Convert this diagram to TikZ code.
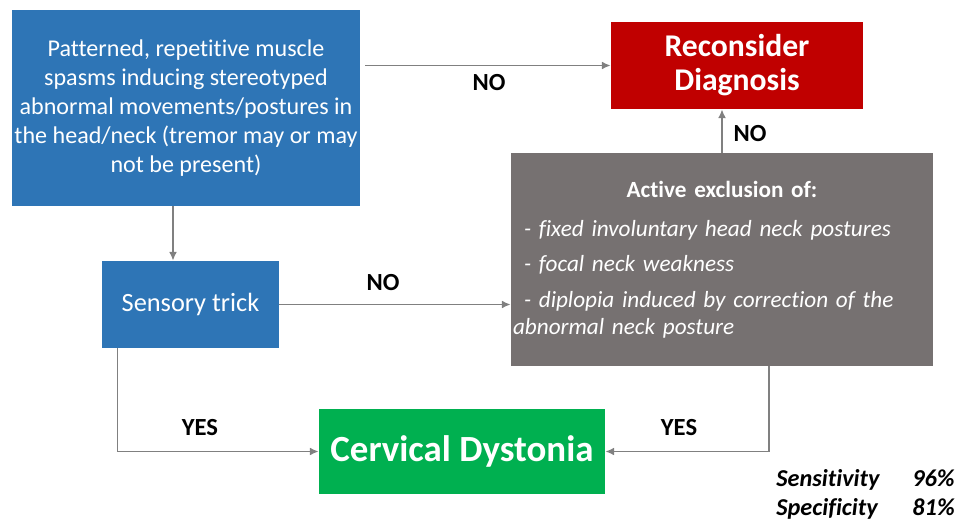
\documentclass[tikz,border=0pt]{standalone}
\usepackage{fontspec}
\setmainfont[Ligatures=NoCommon]{Carlito}
\usetikzlibrary{arrows.meta}

\definecolor{boxblue}{RGB}{46,117,182}
\definecolor{boxred}{RGB}{192,0,0}
\definecolor{boxgray}{RGB}{118,113,113}
\definecolor{boxgreen}{RGB}{0,176,80}
\definecolor{linegray}{RGB}{128,128,128}

\begin{document}
\begin{tikzpicture}[>={Latex[length=5pt,width=4.5pt]},
    box/.style={fill=#1, text=white, inner sep=0pt, align=center},
    link/.style={->, draw=linegray, line width=0.9pt},
    answer/.style={font=\fontsize{14}{16}\selectfont\bfseries}]
    \useasboundingbox (0,0) rectangle (19.32,10.42);
    \node[box=boxblue, minimum width=6.96cm, minimum height=3.92cm, font=\fontsize{13.7}{16.4}\selectfont] (spasms) at (3.72,8.26) {Patterned, repetitive muscle\\ spasms inducing stereotyped\\ abnormal movements/postures in\\ the head/neck (tremor may or may\\ not be present)};
    \node[box=boxred, minimum width=5.04cm, minimum height=1.74cm, font=\fontsize{18}{19.3}\selectfont\bfseries] (recon) at (14.74,9.11) {Reconsider\\ Diagnosis};
    \node[box=boxgray, minimum width=8.44cm, minimum height=4.26cm, text width=8.36cm, align=left, font=\fontsize{13.2}{15.3}\selectfont] (exclusion) at (14.44,5.23) {\makebox[8.36cm]{\bfseries Active exclusion of:}\\[7pt]
        \itshape\hspace*{0.22cm}- fixed involuntary head neck postures\\[5pt]
        \itshape\hspace*{0.22cm}- focal neck weakness\\[5pt]
        \itshape\hspace*{0.22cm}- diplopia induced by correction of the\\
        \itshape abnormal neck posture};
    \node[box=boxblue, minimum width=3.54cm, minimum height=1.74cm, font=\fontsize{15}{17}\selectfont] (trick) at (3.81,4.33) {\raisebox{2.5pt}{Sensory trick}};
    \node[box=boxgreen, minimum width=5.72cm, minimum height=1.7cm, font=\fontsize{21}{24}\selectfont\bfseries] (dystonia) at (9.24,1.39) {Cervical Dystonia};
    % connectors
    \draw[link, shorten <=2.8pt] (spasms.east |- recon.west) -- (recon.west);
    \draw[link] (exclusion.north) -- (exclusion.north |- recon.south);
    \draw[link] ([xshift=-0.26cm]spasms.south) -- ([xshift=-0.26cm]spasms.south |- trick.north);
    \draw[link] (trick.east) -- (trick.east -| exclusion.west);
    \draw[link] ([xshift=0.32cm]trick.south west) |- (dystonia.west);
    \draw[link] ([xshift=0.94cm]exclusion.south) |- (dystonia.east);
    % answers
    \node[answer] (no1) at (9.78,8.76) {NO};
    \node[answer] (no2) at (15.0,7.74) {NO};
    \node[answer] (no3) at (7.66,4.76) {NO};
    \node[answer] (yes1) at (4.0,1.86) {YES};
    \node[answer] (yes2) at (13.58,1.86) {YES};
    \node[anchor=east, inner sep=0pt, font=\fontsize{13.8}{17}\selectfont\bfseries\itshape] (stats) at (19.1,0.52) {\begin{tabular}{@{}l@{\hspace{0.66cm}}r@{}}Sensitivity & 96\%\\ Specificity & 81\%\end{tabular}};
\end{tikzpicture}
\end{document}
